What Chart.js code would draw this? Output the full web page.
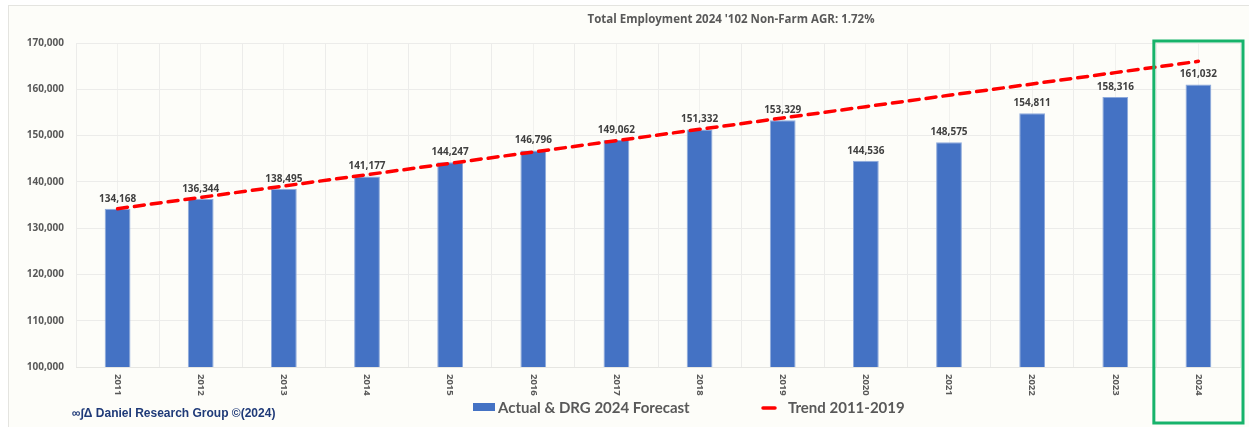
<!DOCTYPE html>
<html>
<head>
<meta charset="utf-8">
<script src="https://cdn.jsdelivr.net/npm/chart.js@4.4.3/dist/chart.umd.min.js"></script>
<style>
  html, body { margin: 0; padding: 0; background: #ffffff; }
  #wrap { position: relative; width: 1249px; height: 427px; }
</style>
</head>
<body>
<div id="wrap"><canvas id="empChart" width="1249" height="427"></canvas></div>
<script>
const years = ['2011', '2012', '2013', '2014', '2015', '2016', '2017', '2018', '2019', '2020', '2021', '2022', '2023', '2024'];
const employment = [134168, 136344, 138495, 141177, 144247, 146796, 149062, 151332, 153329, 144536, 148575, 154811, 158316, 161032];
const trend = [134200, 136650, 139100, 141550, 144000, 146450, 148900, 151350, 153800, 156250, 158700, 161150, 163600, 166050];
const yTicks = [100000, 110000, 120000, 130000, 140000, 150000, 160000, 170000];

const chartTitle = "Total Employment 2024 '102 Non-Farm AGR: 1.72%";
const barLabel = 'Actual & DRG 2024 Forecast';
const trendLabel = 'Trend 2011-2019';
const credit = '\u221e\u222b\u0394 Daniel Research Group \u00a9(2024)';

const BAR_BLUE = '#4472C4';
const TEXT_GRAY = '#595959';

function fmt(v) {
    return v.toLocaleString('en-US');
}

// background, frame, value labels, rotated year labels, legend, highlight box
const decor = {
    id: 'decor',
    beforeDraw(chart) {
        const ctx = chart.ctx;
        ctx.save();
        ctx.fillStyle = '#ffffff';
        ctx.fillRect(0, 0, chart.width, chart.height);
        ctx.fillStyle = '#fdfdf9';
        ctx.fillRect(8, 5, chart.width - 8, chart.height - 5);
        ctx.strokeStyle = '#e4e4e0';
        ctx.lineWidth = 1;
        ctx.strokeRect(8.5, 5.5, chart.width, chart.height);
        ctx.restore();
    },
    afterDatasetsDraw(chart) {
        const ctx = chart.ctx;
        const x = chart.scales.x;
        const area = chart.chartArea;
        const bars = chart.getDatasetMeta(1);
        ctx.save();

        // value labels
        ctx.fillStyle = '#404040';
        ctx.font = 'bold 10px "Open Sans", sans-serif';
        ctx.textAlign = 'center';
        ctx.textBaseline = 'bottom';
        bars.data.forEach((bar, i) => {
            ctx.fillText(fmt(employment[i]), bar.x, bar.y - 5);
        });

        // year labels, reading top to bottom
        ctx.fillStyle = TEXT_GRAY;
        ctx.font = 'bold 9.5px "Open Sans", sans-serif';
        years.forEach((yr, i) => {
            const px = x.getPixelForValue(i);
            ctx.save();
            ctx.translate(px, area.bottom + 7);
            ctx.rotate(Math.PI / 2);
            ctx.textAlign = 'left';
            ctx.textBaseline = 'middle';
            ctx.fillText(yr, 0, 0);
            ctx.restore();
        });

        // title
        ctx.fillStyle = TEXT_GRAY;
        ctx.font = 'bold 11.5px "Open Sans", sans-serif';
        ctx.textAlign = 'center';
        ctx.textBaseline = 'middle';
        ctx.fillText(chartTitle, 731, 20);

        // legend
        ctx.fillStyle = BAR_BLUE;
        ctx.fillRect(473, 403, 22, 8);
        ctx.fillStyle = TEXT_GRAY;
        ctx.font = 'bold 15px Lato, sans-serif';
        ctx.textAlign = 'left';
        ctx.fillText(barLabel, 498, 408);
        ctx.strokeStyle = '#ff0000';
        ctx.lineWidth = 3.5;
        ctx.lineCap = 'round';
        ctx.beginPath();
        ctx.moveTo(763, 408);
        ctx.lineTo(775, 408);
        ctx.stroke();
        ctx.fillText(trendLabel, 788, 408);

        // credit line
        ctx.fillStyle = '#1f3a78';
        ctx.font = 'bold 12px "Liberation Sans", Arial, sans-serif';
        ctx.fillText(credit, 72, 414);

        // highlight box around the forecast year
        const last = years.length - 1;
        const half = (x.getPixelForValue(1) - x.getPixelForValue(0)) / 2;
        const cx = x.getPixelForValue(last);
        ctx.strokeStyle = '#17b36b';
        ctx.lineWidth = 3;
        ctx.lineCap = 'butt';
        ctx.strokeRect(cx - half - 3, area.top - 2, half * 2 + 6, 423 - area.top + 2);
        ctx.restore();
    }
};

new Chart(document.getElementById('empChart'), {
    data: {
        labels: years,
        datasets: [
            {
                type: 'line',
                label: trendLabel,
                data: trend,
                borderColor: '#ff0000',
                borderWidth: 3.5,
                borderDash: [10, 7],
                borderCapStyle: 'round',
                pointRadius: 0,
                fill: false,
                tension: 0,
                order: 0
            },
            {
                type: 'bar',
                label: barLabel,
                data: employment,
                backgroundColor: BAR_BLUE,
                borderColor: '#8eaadb',
                borderWidth: 1,
                barPercentage: 0.62,
                categoryPercentage: 0.5,
                order: 1
            }
        ]
    },
    options: {
        responsive: false,
        animation: false,
        layout: { padding: { left: 10, right: 9, top: 43, bottom: 60 } },
        plugins: {
            legend: { display: false },
            title: { display: false },
            tooltip: { enabled: false }
        },
        scales: {
            x: {
                offset: true,
                ticks: { display: false },
                border: { display: true, color: '#e6e6e2' },
                grid: { offset: true, color: '#ececea', drawTicks: false }
            },
            x2: {
                type: 'category',
                labels: years,
                position: 'bottom',
                offset: true,
                display: true,
                ticks: { display: false },
                border: { display: false },
                grid: { offset: false, color: '#f1f1ee', drawTicks: false },
                afterFit(scale) { scale.height = 0; }
            },
            y: {
                min: 100000,
                max: 170000,
                afterBuildTicks(scale) {
                    scale.ticks = yTicks.map(v => ({ value: v }));
                },
                afterFit(scale) { scale.width = 66; },
                border: { display: false },
                grid: { color: '#ececea', drawTicks: false },
                ticks: {
                    padding: 12,
                    color: TEXT_GRAY,
                    font: { family: '"Open Sans", sans-serif', size: 10, weight: 'bold' },
                    callback: v => fmt(v)
                }
            }
        }
    },
    plugins: [decor]
});
</script>
</body>
</html>
